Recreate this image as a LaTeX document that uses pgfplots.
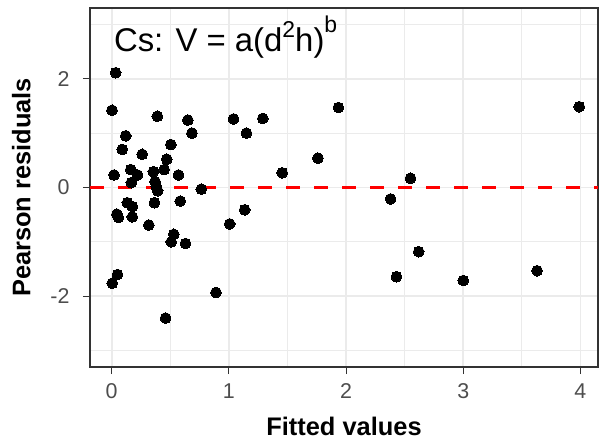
\documentclass[border=0pt]{standalone}
\usepackage{fontspec}
\setmainfont{Liberation Sans}
\setsansfont{Liberation Sans}
\usepackage{pgfplots}
\pgfplotsset{compat=1.18}

\definecolor{gridgray}{HTML}{EBEBEB}
\definecolor{framegray}{HTML}{333333}
\definecolor{ticktext}{HTML}{4D4D4D}

% Pearson residuals against fitted values
\pgfplotstableread{
fitted resid
0.034  2.11
0.003  1.42
0.390  1.31
0.650  1.24
0.685  1.00
1.040  1.26
1.150  1.00
1.290  1.27
1.935  1.47
3.990  1.485
0.120  0.95
0.505  0.79
0.090  0.70
0.260  0.61
0.470  0.52
1.760  0.54
0.163  0.33
0.220  0.23
0.356  0.29
0.448  0.33
0.020  0.23
0.570  0.23
1.455  0.27
2.550  0.17
0.168  0.09
0.370  0.11
0.380  0.02
0.392 -0.06
0.765 -0.03
2.380 -0.21
0.134 -0.28
0.176 -0.35
0.365 -0.28
0.585 -0.25
0.045 -0.49
0.057 -0.55
0.176 -0.54
0.317 -0.69
1.135 -0.41
1.007 -0.67
0.530 -0.86
0.508 -1.00
0.630 -1.03
0.050 -1.60
0.005 -1.76
0.890 -1.93
0.460 -2.40
2.620 -1.18
2.430 -1.64
3.000 -1.71
3.630 -1.53
}\residtable

\begin{document}
\begin{tikzpicture}
\path[use as bounding box] (-90bp,-76bp) rectangle (510bp,367bp);
\begin{axis}[
  at={(0,0)}, anchor=south west,
  scale only axis,
  width=508bp, height=359bp,
  xmin=-0.185, xmax=4.15,
  ymin=-3.3, ymax=3.3,
  xtick={0,1,2,3,4},
  xticklabels={0,1,2,3,4},
  ytick={-2,0,2},
  yticklabels={-2,0,2},
  minor xtick={0.5,1.5,2.5,3.5},
  minor ytick={-3,-1,1,3},
  minor tick length=0pt,
  grid=both,
  major grid style={draw=gridgray, line width=1.8bp},
  minor grid style={draw=gridgray, line width=1.0bp},
  axis line style={draw=framegray, line width=1.1bp},
  tick pos=lower,
  tick align=outside,
  major tick length=7bp,
  tick style={draw=framegray, line width=1.1bp},
  ticklabel style={font=\fontsize{21.5}{25}\selectfont, text=ticktext},
  xticklabel style={yshift=-6bp},
  yticklabel style={xshift=-10bp},
  xlabel={Fitted values},
  ylabel={Pearson residuals},
  label style={font=\fontsize{25.5}{30}\selectfont\bfseries},
  xlabel style={yshift=-12bp},
  ylabel style={yshift=13bp},
]
\addplot[red, line width=3bp, dash pattern=on 14bp off 14bp, forget plot]
  coordinates {(-0.185,0) (4.15,0)};
\addplot[only marks, mark=*, mark size=5.4bp, mark options={fill=black, draw=black, line width=0pt}]
  table[x=fitted, y=resid] {\residtable};
\node[anchor=base west, inner sep=0pt, font=\fontsize{33}{37}\selectfont]
  at (rel axis cs:0.047,0.88) {Cs: V = a(d\raisebox{0.42em}{\fontsize{23}{26}\selectfont 2}h)\raisebox{0.55em}{\fontsize{23}{26}\selectfont b}};
\end{axis}
\end{tikzpicture}
\end{document}
